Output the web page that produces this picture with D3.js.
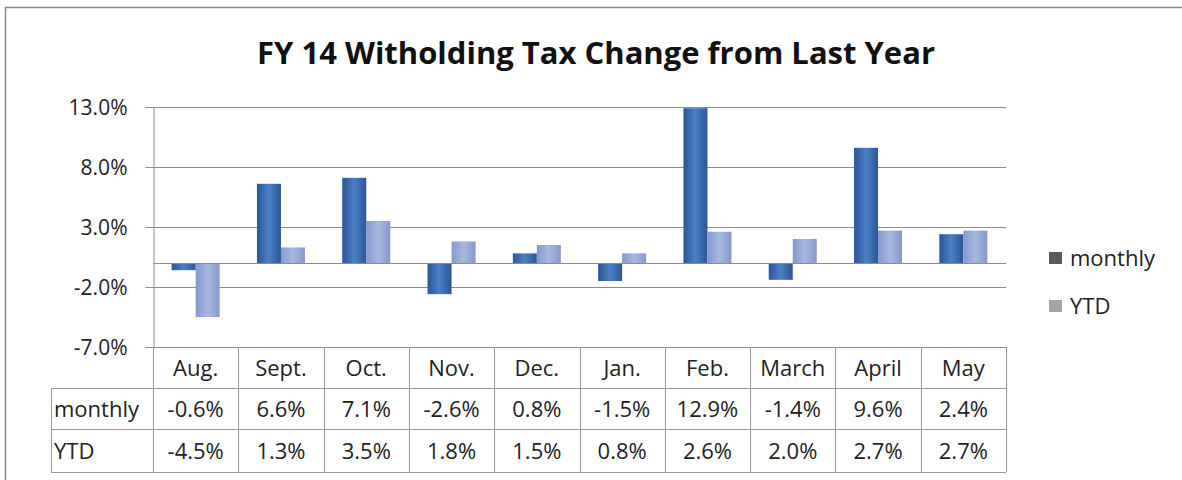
<!DOCTYPE html>
<html>
<head>
<meta charset="utf-8">
<script src="https://cdn.jsdelivr.net/npm/d3@7/dist/d3.min.js"></script>
<style>
  html, body { margin: 0; padding: 0; background: #fff; }
  svg { display: block; font-family: "Open Sans", "Lato", sans-serif; }
</style>
</head>
<body>
<svg id="chart" width="1182" height="480"></svg>
<script>
// Withholding tax change from the prior year, FY 14
const months = ["Aug.", "Sept.", "Oct.", "Nov.", "Dec.", "Jan.", "Feb.", "March", "April", "May"];
const monthly = [-0.6, 6.6, 7.1, -2.6, 0.8, -1.5, 12.9, -1.4, 9.6, 2.4];
const ytd = [-4.5, 1.3, 3.5, 1.8, 1.5, 0.8, 2.6, 2.0, 2.7, 2.7];
const seriesNames = ["monthly", "YTD"];
const yTicks = [13, 8, 3, -2, -7];

const svg = d3.select("#chart");
const W = 1182, H = 480;

const plot = { left: 153, right: 1006, top: 107, bottom: 347 };
const rowH = [41, 41, 43]; // header row, monthly row, YTD row
const labelLeft = 51;
const tickSize = 21;
const cellSize = 22;

const x = d3.scaleBand().domain(months).range([plot.left, plot.right]).padding(0);
const y = d3.scaleLinear().domain([-7, 13]).range([plot.bottom, plot.top]);
const barW = 24;
const xs = d3.scaleBand().domain(seriesNames)
  .range([x.bandwidth() / 2 - barW, x.bandwidth() / 2 + barW]).padding(0);

// percent with a plain hyphen for negatives
const fmt = v => d3.format(".1f")(v).replace("\u2212", "-") + "%";

// Frame
svg.append("path")
  .attr("d", `M5.5,${H} V7.5 H${W}`)
  .attr("fill", "none").attr("stroke", "#8a8a8a").attr("stroke-width", 1.5);

// Gradients for the bars
const defs = svg.append("defs");
const grads = {
  monthly: ["#2c5597", "#4b7fc6", "#2c5597"],
  YTD: ["#8499cc", "#a7b8e0", "#8499cc"]
};
Object.entries(grads).forEach(([k, c]) => {
  const g = defs.append("linearGradient").attr("id", "g-" + k)
    .attr("x1", "0").attr("x2", "1").attr("y1", "0").attr("y2", "0");
  g.append("stop").attr("offset", "0%").attr("stop-color", c[0]);
  g.append("stop").attr("offset", "50%").attr("stop-color", c[1]);
  g.append("stop").attr("offset", "100%").attr("stop-color", c[2]);
});

// Title
svg.append("text")
  .attr("x", 596).attr("y", 64)
  .attr("text-anchor", "middle")
  .attr("font-size", 31).attr("font-weight", "bold").attr("fill", "#111")
  .text("FY 14 Witholding Tax Change from Last Year");

// Gridlines
svg.append("g").selectAll("line").data(yTicks).join("line")
  .attr("x1", plot.left).attr("x2", plot.right)
  .attr("y1", d => Math.round(y(d)) + 0.5).attr("y2", d => Math.round(y(d)) + 0.5)
  .attr("stroke", "#8c8c8c").attr("stroke-width", 1);

// Value axis
const yAxis = d3.axisLeft(y).tickValues(yTicks).tickSize(8).tickFormat(fmt);
const ya = svg.append("g").attr("transform", `translate(${plot.left + 0.5},0)`).call(yAxis);
ya.select(".domain").attr("stroke", "#8c8c8c");
ya.selectAll(".tick line").attr("stroke", "#8c8c8c");
ya.selectAll(".tick text")
  .attr("x", -26).attr("dy", "0.36em")
  .attr("font-size", tickSize).attr("fill", "#222")
  .attr("font-family", "'Open Sans', Lato, sans-serif");

// Bars
const data = months.map((m, i) => ({ m, values: [
  { s: "monthly", v: monthly[i] },
  { s: "YTD", v: ytd[i] }
]}));
const groups = svg.append("g").selectAll("g").data(data).join("g")
  .attr("transform", d => `translate(${x(d.m)},0)`);
groups.selectAll("rect").data(d => d.values).join("rect")
  .attr("x", d => xs(d.s))
  .attr("width", xs.bandwidth())
  .attr("y", d => y(Math.max(0, d.v)))
  .attr("height", d => Math.abs(y(d.v) - y(0)))
  .attr("fill", d => `url(#g-${d.s})`);

// Category axis line at zero
svg.append("line")
  .attr("x1", plot.left).attr("x2", plot.right)
  .attr("y1", Math.round(y(0)) + 0.5).attr("y2", Math.round(y(0)) + 0.5)
  .attr("stroke", "#8c8c8c");

// Data table below the plot
const tbl = svg.append("g");
const rowTop = [plot.bottom, plot.bottom + rowH[0], plot.bottom + rowH[0] + rowH[1]];
const tableBottom = plot.bottom + rowH[0] + rowH[1] + rowH[2];
const lineColor = "#999";

// horizontal rules
[rowTop[1], rowTop[2], tableBottom].forEach(yy => {
  tbl.append("line").attr("x1", labelLeft).attr("x2", plot.right)
    .attr("y1", yy + 0.5).attr("y2", yy + 0.5).attr("stroke", lineColor);
});
// vertical rules between categories
const xEdges = months.map(m => x(m)).concat([plot.right]);
tbl.selectAll("line.v").data(xEdges).join("line").attr("class", "v")
  .attr("x1", d => Math.round(d) + 0.5).attr("x2", d => Math.round(d) + 0.5)
  .attr("y1", plot.bottom).attr("y2", tableBottom).attr("stroke", lineColor);
tbl.append("line").attr("x1", labelLeft + 0.5).attr("x2", labelLeft + 0.5)
  .attr("y1", rowTop[1]).attr("y2", tableBottom).attr("stroke", lineColor);

const cellText = (yy, h) => yy + h / 2 + 8;

tbl.selectAll("text.hdr").data(months).join("text").attr("class", "hdr")
  .attr("x", d => x(d) + x.bandwidth() / 2).attr("y", cellText(rowTop[0], rowH[0]))
  .attr("text-anchor", "middle").attr("font-size", cellSize).attr("fill", "#222")
  .text(d => d);

[[monthly, "monthly"], [ytd, "YTD"]].forEach(([vals, name], r) => {
  const top = rowTop[r + 1], h = rowH[r + 1];
  tbl.append("text").attr("x", labelLeft + 3).attr("y", cellText(top, h))
    .attr("font-size", cellSize).attr("fill", "#222").text(name);
  tbl.selectAll("text.r" + r).data(vals).join("text").attr("class", "r" + r)
    .attr("x", (d, i) => x(months[i]) + x.bandwidth() / 2).attr("y", cellText(top, h))
    .attr("text-anchor", "middle").attr("font-size", cellSize).attr("fill", "#222")
    .text(fmt);
});

// Legend
const legendColors = { monthly: "#5a5a5a", YTD: "#a4a4a4" };
const lg = svg.append("g").selectAll("g").data(seriesNames).join("g")
  .attr("transform", (d, i) => `translate(1049,${252 + i * 48})`);
lg.append("rect").attr("width", 13).attr("height", 12).attr("fill", d => legendColors[d]);
lg.append("text").attr("x", 21).attr("y", 14)
  .attr("font-size", cellSize).attr("fill", "#222").text(d => d);
</script>
</body>
</html>
